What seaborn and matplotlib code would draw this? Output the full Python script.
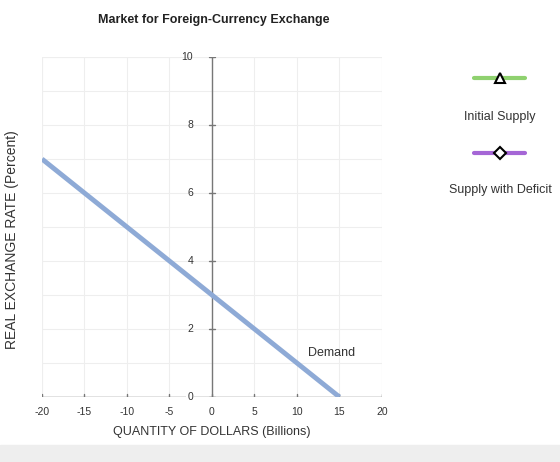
import pandas as pd
import seaborn as sns
import matplotlib
matplotlib.use('Agg')
import matplotlib.pyplot as plt
from matplotlib.lines import Line2D
from matplotlib.patches import Rectangle

sns.set_style("white")
plt.rcParams['font.family'] = ['Liberation Sans', 'DejaVu Sans']

# demand curve
demand_q = [-20, 15]
demand_rate = [7, 0]

x_ticks = [-20, -15, -10, -5, 0, 5, 10, 15, 20]
y_ticks = [0, 2, 4, 6, 8, 10]

legend_labels = ["Initial Supply", "Supply with Deficit"]
legend_colors = ["#8fd16f", "#a566d6"]
legend_markers = ["^", "D"]

df = pd.DataFrame({"q": demand_q, "rate": demand_rate})

fig = plt.figure(figsize=(5.6, 4.62), dpi=100)
ax = fig.add_axes([0.075, 0.1407, 0.607, 0.7359])

sns.lineplot(data=df, x="q", y="rate", ax=ax, color="#8eaad6", linewidth=3.5, solid_capstyle="butt")

ax.set_xlim(-20, 20)
ax.set_ylim(0, 10)
ax.set_xticks(range(-20, 21, 5))
ax.set_yticks(range(0, 11, 1))
ax.grid(True, color="#eeeeee", linewidth=0.8)
for s in ax.spines.values():
    s.set_visible(False)
ax.tick_params(left=False, bottom=False, labelleft=False, labelbottom=False)

# grid frame
ax.add_patch(Rectangle((0, 0), 1, 1, transform=ax.transAxes, fill=False, edgecolor="#eeeeee", linewidth=0.8))

# axes through origin
ax.plot([-20, 20], [0, 0], color="#777777", linewidth=1, zorder=1)
ax.plot([0, 0], [0, 10], color="#777777", linewidth=1, zorder=1)
for x in x_ticks:
    ax.plot([x, x], [-0.1, 0.1], color="#777777", linewidth=1, zorder=1)
    ax.text(x, -0.45, str(x), ha="center", va="center", fontsize=7.5, color="#333333")
for y in y_ticks:
    ax.plot([-0.4, 0.4], [y, y], color="#777777", linewidth=1, zorder=1)
    ax.text(-2.2, y, str(y), ha="right", va="center", fontsize=7.5, color="#333333",
            bbox=dict(facecolor="white", edgecolor="none", pad=0.8) if y == 0 else None)

ax.text(11.3, 1.29, "Demand", fontsize=9, color="#333333", va="center")

ax.set_xlabel("")
ax.set_ylabel("")
fig.text(0.379, 0.065, "QUANTITY OF DOLLARS (Billions)", ha="center", va="center", fontsize=9, color="#333333")
fig.text(0.022, 0.4805, "REAL EXCHANGE RATE (Percent)", ha="center", va="center", rotation=90, fontsize=10, color="#333333")
fig.text(0.382, 0.957, "Market for Foreign-Currency Exchange", ha="center", va="center", fontsize=9, fontweight="bold", color="#222222")

# legend
for i, (lab, col, mk) in enumerate(zip(legend_labels, legend_colors, legend_markers)):
    yl = 1 - (78 + i * 75) / 462
    yt = 1 - (117 + i * 73) / 462
    fig.add_artist(Line2D([474 / 560, 525 / 560], [yl, yl], color=col, linewidth=3))
    fig.add_artist(Line2D([500 / 560], [yl], marker=mk, markersize=7 if mk == "^" else 6,
                          markerfacecolor="white", markeredgecolor="black", markeredgewidth=1.5))
    fig.text(500 / 560, yt, lab, ha="center", va="center", fontsize=9, color="#333333")

# grey strip at bottom
fig.add_artist(Rectangle((0, 0), 1, 17 / 462, transform=fig.transFigure, color="#eeeeee"))

fig.savefig("out.png", dpi=100)
